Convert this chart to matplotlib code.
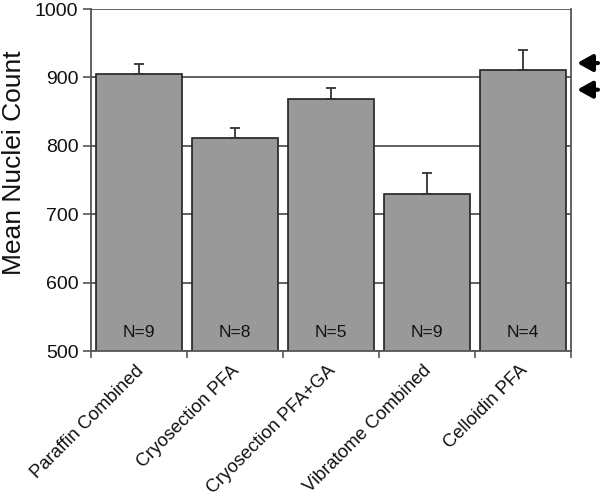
import matplotlib
matplotlib.use("Agg")
import matplotlib.pyplot as plt
import numpy as np

categories = ["Paraffin Combined", "Cryosection PFA", "Cryosection PFA+GA",
              "Vibratome Combined", "Celloidin PFA"]
means = [905, 812, 868, 729, 911]
errors = [14, 14, 16, 31, 29]
n_labels = ["N=9", "N=8", "N=5", "N=9", "N=4"]
arrow_levels = [921, 882]
yticks = [500, 600, 700, 800, 900, 1000]

plt.rcParams['font.family'] = ['Liberation Sans', 'DejaVu Sans']

fig = plt.figure(figsize=(6.03, 4.99), dpi=100)
ax = fig.add_axes([91/603, 1 - 351/499, 480/603, 342/499])

x = np.arange(len(categories))
ax.set_xlim(-0.5, len(categories) - 0.5)
ax.set_ylim(500, 1000)

for y in yticks:
    ax.axhline(y, color='#555555', lw=1.3, zorder=0)

ax.bar(x, means, width=0.9, color='#999999', edgecolor='#222222', lw=1.2, zorder=2)
ax.errorbar(x, means, yerr=[np.zeros(len(errors)), errors], fmt='none',
            ecolor='#333333', elinewidth=1.3, capsize=3.5, capthick=1.3, zorder=3)

for xi, lab in zip(x, n_labels):
    ax.text(xi, 527, lab, ha='center', va='center', fontsize=12.5, color='#111111', zorder=4)

ax.set_yticks(yticks)
ax.set_yticklabels([str(v) for v in yticks], fontsize=14, color='#111111')
ax.set_xticks(np.arange(len(categories) + 1) - 0.5, minor=False)
ax.set_xticklabels([])
ax.tick_params(axis='x', direction='out', length=5, color='#555555', width=1.2)
ax.tick_params(axis='y', direction='out', length=6, color='#555555', width=1.2, pad=3)

for xi, lab in zip(x, categories):
    ax.text(xi - 0.04, 484, lab, rotation=45, ha='right', va='top',
            fontsize=13.2, rotation_mode='anchor', color='#111111')

ax.set_ylabel("Mean Nuclei Count", fontsize=19, labelpad=12, color='#111111')
ax.yaxis.set_label_coords(-0.135, 0.55)

for s in ['left', 'right', 'bottom']:
    ax.spines[s].set_color('#555555')
    ax.spines[s].set_linewidth(1.3)
ax.spines['top'].set_visible(False)

for lvl in arrow_levels:
    ax.annotate('', xy=(1.007, lvl), xycoords=('axes fraction', 'data'),
                xytext=(1.062, lvl), textcoords=('axes fraction', 'data'),
                arrowprops=dict(arrowstyle='-|>,head_length=0.9,head_width=0.5',
                                color='black', lw=3), annotation_clip=False)

fig.savefig("out.png", dpi=100)
